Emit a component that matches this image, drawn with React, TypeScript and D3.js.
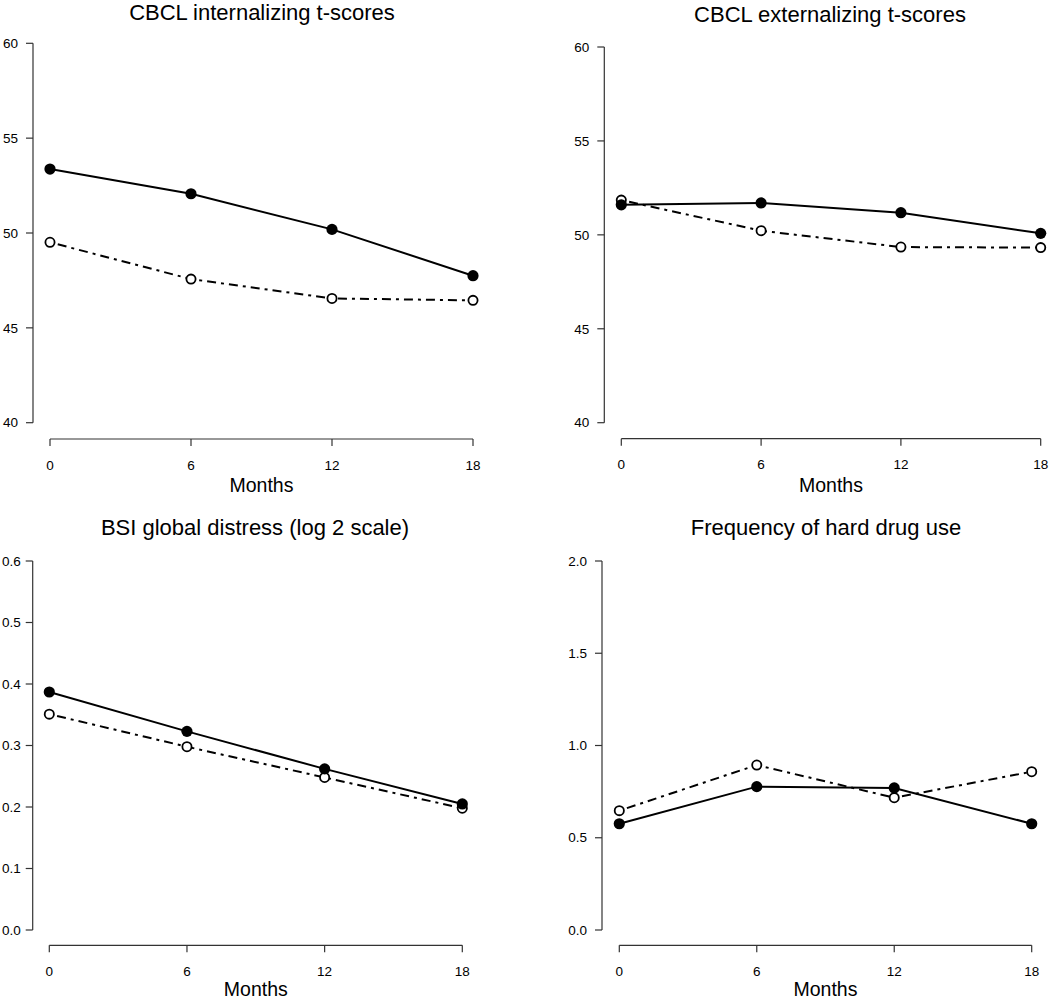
import React, { useEffect, useRef } from 'react';
import * as d3 from 'd3';

// time points (months)
const months = [0, 6, 12, 18];

// panel titles
const titles = [
  'CBCL internalizing t-scores',
  'CBCL externalizing t-scores',
  'BSI global distress (log 2 scale)',
  'Frequency of hard drug use',
];

// filled circles, solid line
const internalFilled = [53.37, 52.07, 50.19, 47.75];
const externalFilled = [51.6, 51.7, 51.18, 50.08];
const bsiFilled = [0.387, 0.323, 0.262, 0.205];
const drugFilled = [0.576, 0.777, 0.77, 0.576];

// open circles, dot-dash line
const internalOpen = [49.51, 47.57, 46.55, 46.45];
const externalOpen = [51.85, 50.22, 49.35, 49.32];
const bsiOpen = [0.351, 0.298, 0.248, 0.198];
const drugOpen = [0.647, 0.894, 0.717, 0.858];

// y axis ticks
const tScoreTicks = [40, 45, 50, 55, 60];
const bsiTicks = [0, 0.1, 0.2, 0.3, 0.4, 0.5, 0.6];
const drugTicks = [0, 0.5, 1, 1.5, 2];

const App = () => {
  const ref = useRef(null);

  useEffect(() => {
    const svg = d3.select(ref.current);
    svg.selectAll('*').remove();

    // layout of the four panels (pixel frame for each)
    const panels = [
      { title: titles[0], filled: internalFilled, open: internalOpen, ticks: tScoreTicks, fmt: d3.format('d'), gap: 15,
        ax: 33, x0: 50, x1: 473, yTop: 43.3, yBot: 422.7, xAxisY: 439, titleX: 262, titleY: 20, monthsY: 492 },
      { title: titles[1], filled: externalFilled, open: externalOpen, ticks: tScoreTicks, fmt: d3.format('d'), gap: 15,
        ax: 604.3, x0: 621.3, x1: 1040.7, yTop: 47, yBot: 422.7, xAxisY: 438.7, titleX: 830, titleY: 21.5, monthsY: 492 },
      { title: titles[2], filled: bsiFilled, open: bsiOpen, ticks: bsiTicks, fmt: d3.format('.1f'), gap: 12,
        ax: 32.7, x0: 49.3, x1: 462.3, yTop: 561, yBot: 930, xAxisY: 945.3, titleX: 255, titleY: 535, monthsY: 996 },
      { title: titles[3], filled: drugFilled, open: drugOpen, ticks: drugTicks, fmt: d3.format('.1f'), gap: 15,
        ax: 602, x0: 619.3, x1: 1031.7, yTop: 561, yBot: 930, xAxisY: 945.3, titleX: 826, titleY: 535, monthsY: 996 },
    ];

    const font = 'Liberation Sans, Arial, Helvetica, sans-serif';
    const axisColor = '#333';

    panels.forEach(p => {
      const g = svg.append('g');
      const x = d3.scaleLinear().domain([0, 18]).range([p.x0, p.x1]);
      const y = d3.scaleLinear().domain([p.ticks[0], p.ticks[p.ticks.length - 1]]).range([p.yBot, p.yTop]);

      // y axis (R style: line only spans the ticks)
      g.append('line')
        .attr('x1', p.ax).attr('x2', p.ax)
        .attr('y1', y(p.ticks[0])).attr('y2', y(p.ticks[p.ticks.length - 1]))
        .attr('stroke', axisColor).attr('stroke-width', 1.2);
      p.ticks.forEach(t => {
        g.append('line')
          .attr('x1', p.ax - 7).attr('x2', p.ax)
          .attr('y1', y(t)).attr('y2', y(t))
          .attr('stroke', axisColor).attr('stroke-width', 1.2);
        g.append('text')
          .attr('x', p.ax - p.gap).attr('y', y(t))
          .attr('dy', '0.35em')
          .attr('text-anchor', 'end')
          .attr('font-family', font).attr('font-size', 13.5)
          .text(p.fmt(t));
      });

      // x axis
      g.append('line')
        .attr('x1', x(months[0])).attr('x2', x(months[months.length - 1]))
        .attr('y1', p.xAxisY).attr('y2', p.xAxisY)
        .attr('stroke', axisColor).attr('stroke-width', 1.2);
      months.forEach(m => {
        g.append('line')
          .attr('x1', x(m)).attr('x2', x(m))
          .attr('y1', p.xAxisY).attr('y2', p.xAxisY + 7)
          .attr('stroke', axisColor).attr('stroke-width', 1.2);
        g.append('text')
          .attr('x', x(m)).attr('y', p.xAxisY + 26)
          .attr('dy', '0.35em')
          .attr('text-anchor', 'middle')
          .attr('font-family', font).attr('font-size', 13.5)
          .text(m);
      });

      g.append('text')
        .attr('x', (p.x0 + p.x1) / 2).attr('y', p.monthsY)
        .attr('text-anchor', 'middle')
        .attr('font-family', font).attr('font-size', 19.5)
        .text('Months');

      g.append('text')
        .attr('x', p.titleX).attr('y', p.titleY)
        .attr('text-anchor', 'middle')
        .attr('font-family', font).attr('font-size', 22)
        .text(p.title);

      const line = d3.line().x((d, i) => x(months[i])).y(d => y(d));

      // open series first, filled drawn on top
      g.append('path')
        .attr('d', line(p.open))
        .attr('fill', 'none').attr('stroke', '#000').attr('stroke-width', 2)
        .attr('stroke-dasharray', '3,5,9,5');
      g.selectAll('circle.open')
        .data(p.open)
        .enter()
        .append('circle')
        .attr('class', 'open')
        .attr('cx', (d, i) => x(months[i])).attr('cy', d => y(d))
        .attr('r', 4.6)
        .attr('fill', '#fff').attr('stroke', '#000').attr('stroke-width', 1.8);

      g.append('path')
        .attr('d', line(p.filled))
        .attr('fill', 'none').attr('stroke', '#000').attr('stroke-width', 2);
      g.selectAll('circle.filled')
        .data(p.filled)
        .enter()
        .append('circle')
        .attr('class', 'filled')
        .attr('cx', (d, i) => x(months[i])).attr('cy', d => y(d))
        .attr('r', 5.6)
        .attr('fill', '#000');
    });
  }, []);

  return (
    <svg
      ref={ref}
      width={1050}
      height={1000}
      style={{ position: 'absolute', left: 0, top: 0, background: '#fff' }}
    />
  );
};

export default App;
